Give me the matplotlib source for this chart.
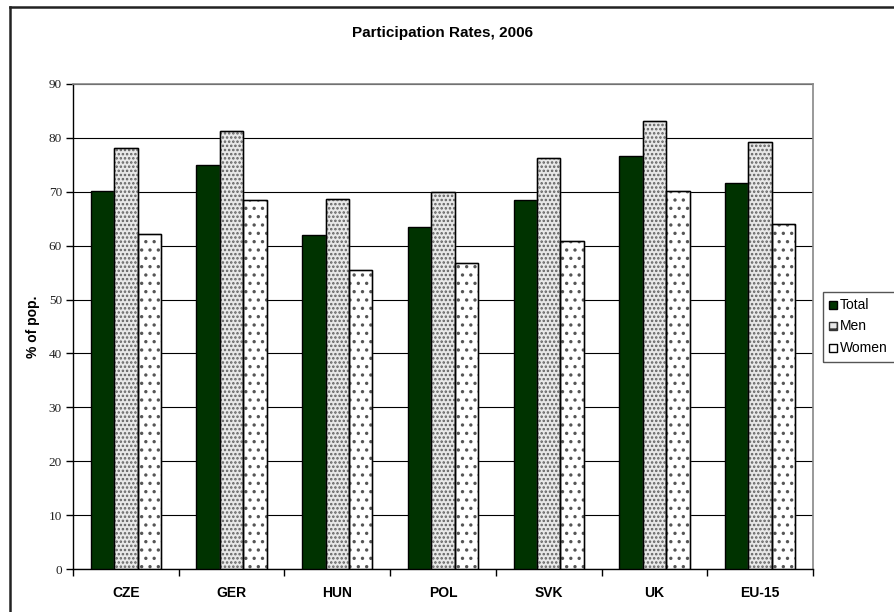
import matplotlib
matplotlib.use("Agg")
import matplotlib.pyplot as plt
import numpy as np
from matplotlib.lines import Line2D
from matplotlib.patches import Rectangle

categories = ["CZE", "GER", "HUN", "POL", "SVK", "UK", "EU-15"]
total = [70.2, 75.0, 62.0, 63.4, 68.5, 76.6, 71.6]
men = [78.1, 81.2, 68.6, 70.0, 76.2, 83.1, 79.2]
women = [62.2, 68.4, 55.4, 56.7, 60.9, 70.2, 64.1]
series_names = ["Total", "Men", "Women"]
yticks = list(range(0, 91, 10))

plt.rcParams['hatch.linewidth'] = 1.2
fig = plt.figure(figsize=(8.95, 6.12), dpi=100)
W, H = 895, 612
ax = fig.add_axes([73 / W, 1 - 569 / H, (813 - 73) / W, (569 - 84) / H])

x = np.arange(len(categories))
bw = 0.222
ax.bar(x - bw, total, bw, color="#003300", edgecolor="black", linewidth=1.0, zorder=3)
ax.bar(x, men, bw, color="#e8e8e8", edgecolor="#606060", hatch="....", linewidth=1.0, zorder=3)
ax.bar(x + bw, women, bw, color="white", edgecolor="#555555", hatch="..", linewidth=1.0, zorder=3)
# outlines black
for vals, off in [(men, 0), (women, bw)]:
    for i, v in enumerate(vals):
        ax.add_patch(Rectangle((x[i] + off - bw / 2, 0), bw, v, fill=False,
                               edgecolor="black", linewidth=1.0, zorder=4))

ax.set_xlim(-0.5, len(categories) - 0.5)
ax.set_ylim(0, 90)
ax.set_yticks(yticks)
ax.set_yticklabels([str(t) for t in yticks], fontfamily="Liberation Serif", fontsize=9.5, color="#222222")
ax.set_xticks(np.arange(-0.5, len(categories), 1.0))
ax.set_xticklabels([])
ax.set_xticks(x, minor=True)
ax.set_xticklabels(categories, minor=True, fontfamily="Liberation Sans", fontweight="bold", fontsize=10)
ax.tick_params(axis="x", which="minor", length=0, pad=12)
ax.tick_params(axis="x", which="major", length=5, direction="out", width=1)
ax.tick_params(axis="y", length=5, direction="out", width=1, pad=3)
ax.yaxis.grid(True, color="black", linewidth=0.8, zorder=0)
ax.set_axisbelow(True)
for s in ["top", "right"]:
    ax.spines[s].set_color("#888888")
    ax.spines[s].set_linewidth(1.2)
for s in ["left", "bottom"]:
    ax.spines[s].set_color("black")
    ax.spines[s].set_linewidth(1.0)

ax.set_ylabel("% of pop.", fontfamily="Liberation Sans", fontweight="bold", fontsize=10, labelpad=6)

fig.text(443 / W, 1 - 33 / H, "Participation Rates, 2006", ha="center", va="center",
         fontfamily="Liberation Sans", fontweight="bold", fontsize=11)

# outer border
fig.add_artist(Line2D([10 / W, 10 / W], [0, 1 - 7 / H], color="#222222", linewidth=1.8, transform=fig.transFigure))
fig.add_artist(Line2D([10 / W, 1], [1 - 7 / H, 1 - 7 / H], color="#222222", linewidth=1.8, transform=fig.transFigure))

# legend box
fig.add_artist(Rectangle((823 / W, 1 - 362 / H), 0.2, 70 / H, fill=False, edgecolor="#555555",
                         linewidth=1.0, transform=fig.transFigure))
styles = [dict(facecolor="#003300", hatch=None, edgecolor="black"),
          dict(facecolor="#e8e8e8", hatch="++", edgecolor="#333333"),
          dict(facecolor="white", hatch=None, edgecolor="black")]
ys = [305, 326, 348]
for name, st, yy in zip(series_names, styles, ys):
    fig.add_artist(Rectangle((829 / W, 1 - (yy + 4) / H), 8 / W, 8 / H, transform=fig.transFigure,
                             linewidth=1.0, **st))
    fig.text(840 / W, 1 - yy / H, name, ha="left", va="center", fontfamily="Liberation Sans", fontsize=10)

fig.savefig("out.png", dpi=100)
